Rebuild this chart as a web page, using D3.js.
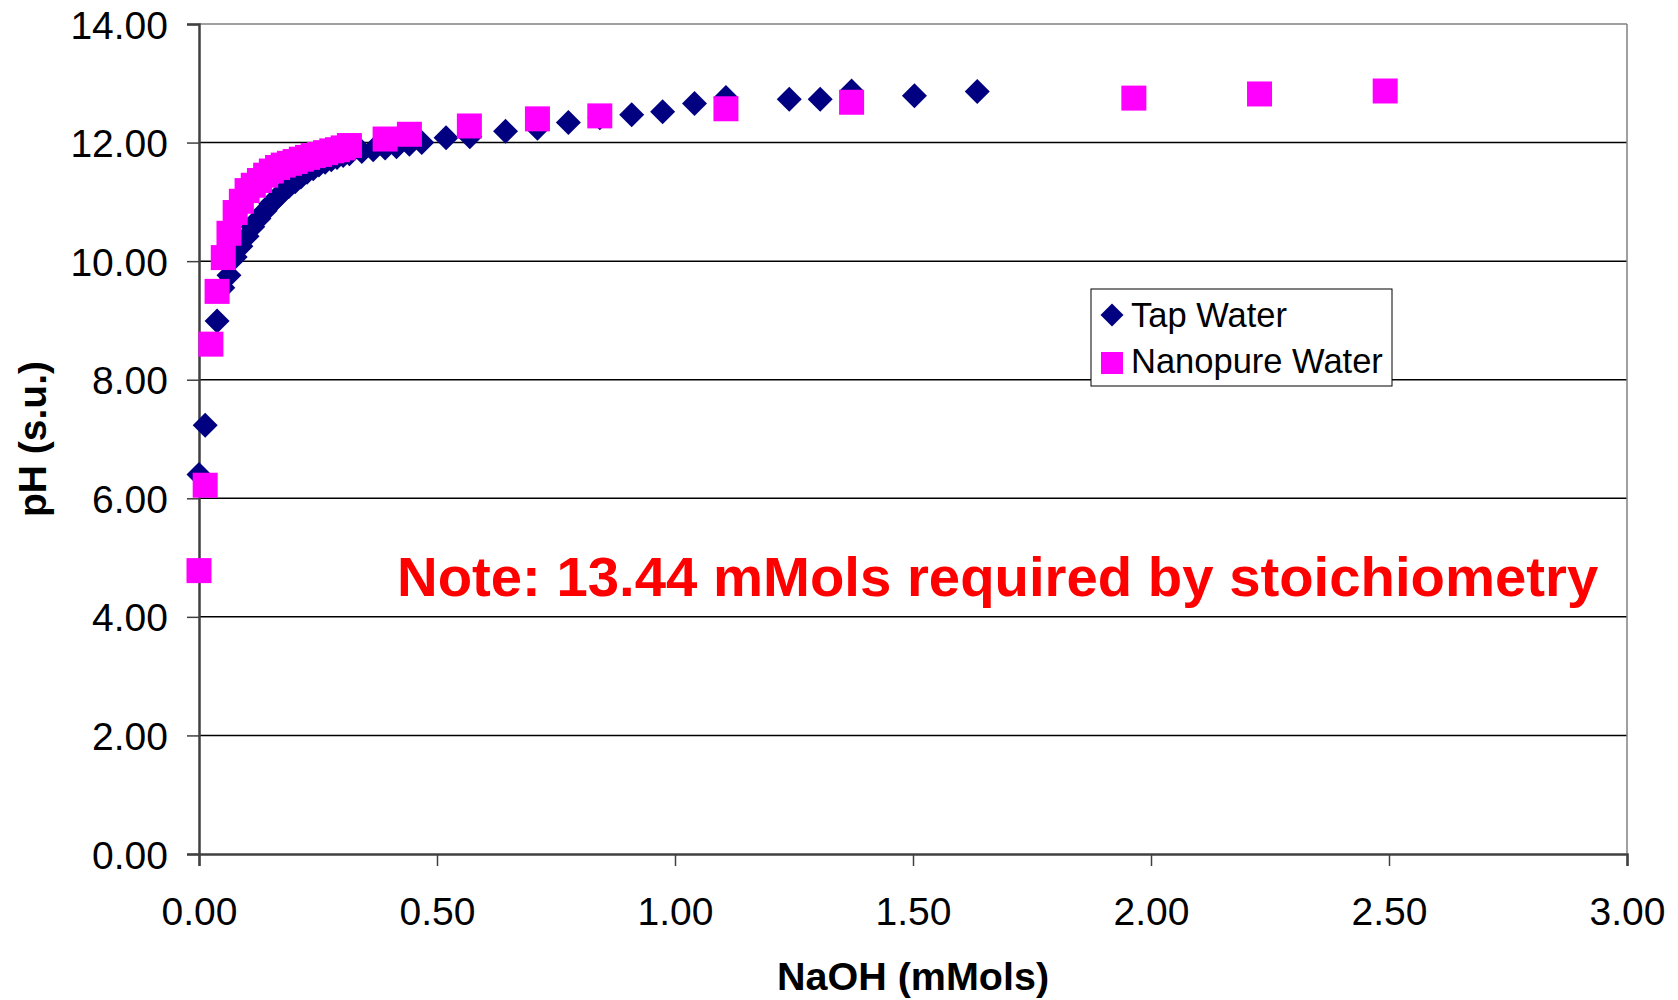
<!DOCTYPE html>
<html>
<head>
<meta charset="utf-8">
<script src="https://cdn.jsdelivr.net/npm/d3@7"></script>
<style>
  html, body { margin: 0; padding: 0; background: #fff; }
  svg { display: block; font-family: "Liberation Sans", Arial, sans-serif; }
</style>
</head>
<body>
<div id="chart"></div>
<script>
// NaOH added (mMols) and pH readings
const tapX = [0.000, 0.013, 0.038, 0.050, 0.063, 0.076, 0.088, 0.101, 0.113, 0.126,
  0.139, 0.151, 0.164, 0.176, 0.189, 0.202, 0.214, 0.227, 0.240, 0.252,
  0.265, 0.278, 0.290, 0.303, 0.316, 0.342, 0.366, 0.391, 0.415, 0.442,
  0.468, 0.519, 0.569, 0.644, 0.711, 0.776, 0.842, 0.909, 0.974, 1.041,
  1.107, 1.240, 1.305, 1.371, 1.503, 1.635];
const tapPH = [6.40, 7.23, 8.99, 9.55, 9.76, 10.07, 10.25, 10.42, 10.58, 10.72,
  10.85, 10.97, 11.07, 11.17, 11.26, 11.34, 11.42, 11.50, 11.56, 11.62,
  11.67, 11.71, 11.75, 11.78, 11.81, 11.85, 11.88, 11.91, 11.93, 11.97,
  12.00, 12.08, 12.10, 12.19, 12.24, 12.34, 12.42, 12.47, 12.52, 12.66,
  12.76, 12.73, 12.73, 12.87, 12.79, 12.86];

const nanoX = [0.000, 0.013, 0.025, 0.038, 0.051, 0.063, 0.076, 0.089, 0.101, 0.114,
  0.127, 0.140, 0.152, 0.165, 0.177, 0.190, 0.202, 0.215, 0.228, 0.240,
  0.253, 0.266, 0.279, 0.291, 0.303, 0.316, 0.391, 0.442, 0.568, 0.711,
  0.842, 1.107, 1.371, 1.964, 2.228, 2.492];
const nanoPH = [4.78, 6.22, 8.60, 9.49, 10.06, 10.47, 10.82, 11.01, 11.19, 11.28,
  11.36, 11.45, 11.52, 11.58, 11.62, 11.65, 11.68, 11.72, 11.75, 11.78,
  11.80, 11.83, 11.86, 11.88, 11.91, 11.95, 12.06, 12.14, 12.28, 12.40,
  12.45, 12.57, 12.68, 12.75, 12.82, 12.87];

const xTicks = [0, 0.5, 1, 1.5, 2, 2.5, 3];
const yTicks = [0, 2, 4, 6, 8, 10, 12, 14];
const seriesNames = ["Tap Water", "Nanopure Water"];
const seriesColors = ["#000080", "#FF00FF"];

const W = 1678, H = 1000;
const m = {left: 199, right: 51, top: 24, bottom: 146};
const pw = W - m.left - m.right, ph = H - m.top - m.bottom;

const svg = d3.select("#chart").append("svg")
  .attr("width", W).attr("height", H);

const x = d3.scaleLinear().domain([0, 3]).range([m.left, m.left + pw]);
const y = d3.scaleLinear().domain([0, 14]).range([m.top + ph, m.top]);
const fmt = d3.format(".2f");

// gridlines
svg.append("g")
  .selectAll("line")
  .data(yTicks.slice(1))
  .enter().append("line")
  .attr("x1", m.left).attr("x2", m.left + pw)
  .attr("y1", d => y(d)).attr("y2", d => y(d))
  .attr("stroke", d => d === 14 ? "#808080" : "#000")
  .attr("stroke-width", 1.5);

// right border of plot area
svg.append("line")
  .attr("x1", m.left + pw).attr("x2", m.left + pw)
  .attr("y1", m.top).attr("y2", m.top + ph)
  .attr("stroke", "#808080").attr("stroke-width", 1.5);

// axes
const yAxis = svg.append("g")
  .attr("transform", `translate(${m.left},0)`)
  .call(d3.axisLeft(y).tickValues(yTicks).tickFormat(fmt).tickSize(12).tickPadding(19));
const xAxis = svg.append("g")
  .attr("transform", `translate(0,${m.top + ph})`)
  .call(d3.axisBottom(x).tickValues(xTicks).tickFormat(fmt).tickSize(12).tickPadding(31));

[yAxis, xAxis].forEach(a => {
  a.select(".domain").attr("stroke", "#404040").attr("stroke-width", 2.5);
  a.selectAll(".tick line").attr("stroke", "#404040").attr("stroke-width", 1.5);
  a.selectAll(".tick text")
    .attr("fill", "#000")
    .style("font-size", "39px")
    .style("font-family", "'Liberation Sans', Arial, sans-serif");
});
yAxis.selectAll(".tick text").attr("dy", "0.36em");

// axis titles
svg.append("text")
  .attr("x", m.left + pw / 2).attr("y", 990)
  .attr("text-anchor", "middle")
  .style("font-size", "39.5px").style("font-weight", "bold")
  .text("NaOH (mMols)");
svg.append("text")
  .attr("transform", `translate(46,${m.top + ph / 2}) rotate(-90)`)
  .attr("text-anchor", "middle")
  .style("font-size", "39px").style("font-weight", "bold")
  .text("pH (s.u.)");

// markers
const tap = tapX.map((d, i) => ({x: d, y: tapPH[i]}));
const nano = nanoX.map((d, i) => ({x: d, y: nanoPH[i]}));

const diamond = d3.symbol().type(d3.symbolSquare).size(312);

svg.append("g")
  .selectAll("path")
  .data(tap)
  .enter().append("path")
  .attr("d", diamond)
  .attr("transform", d => `translate(${x(d.x)},${y(d.y)}) rotate(45)`)
  .attr("fill", seriesColors[0]);

svg.append("g")
  .selectAll("rect")
  .data(nano)
  .enter().append("rect")
  .attr("x", d => x(d.x) - 12.5).attr("y", d => y(d.y) - 12.5)
  .attr("width", 25).attr("height", 25)
  .attr("fill", seriesColors[1]);

// legend
const lg = svg.append("g").attr("transform", "translate(1091,289)");
lg.append("rect")
  .attr("width", 301).attr("height", 97)
  .attr("fill", "#fff").attr("stroke", "#000").attr("stroke-width", 1);
lg.append("path")
  .attr("d", d3.symbol().type(d3.symbolSquare).size(265))
  .attr("transform", "translate(21,26) rotate(45)")
  .attr("fill", seriesColors[0]);
lg.append("rect")
  .attr("x", 10).attr("y", 63).attr("width", 22).attr("height", 22)
  .attr("fill", seriesColors[1]);
lg.selectAll("text.lab")
  .data(seriesNames)
  .enter().append("text")
  .attr("class", "lab")
  .attr("x", 40).attr("y", (d, i) => 38 + i * 46)
  .style("font-size", "34.5px")
  .text(d => d);

// note
svg.append("text")
  .attr("x", 397).attr("y", 596)
  .attr("fill", "#FF0000")
  .style("font-size", "56.3px").style("font-weight", "bold")
  .text("Note: 13.44 mMols required by stoichiometry");
</script>
</body>
</html>
